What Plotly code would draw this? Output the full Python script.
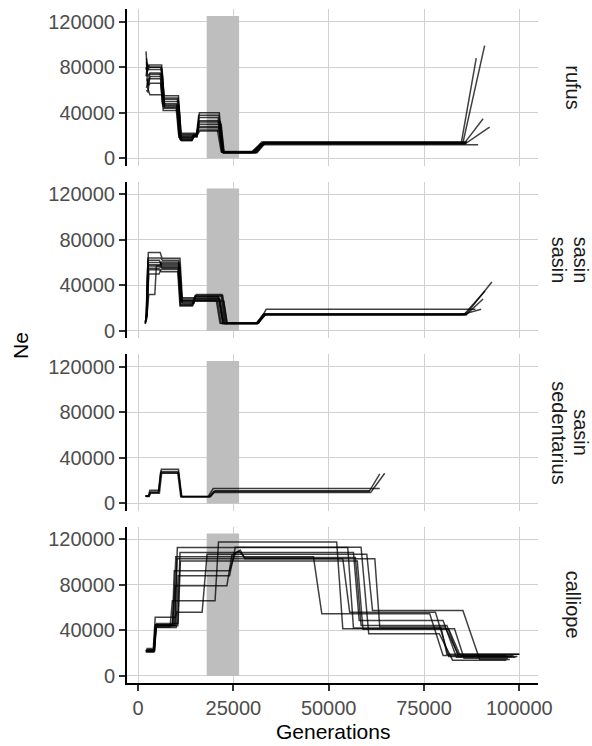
import plotly.graph_objects as go
from plotly.subplots import make_subplots

# ---- data: effective population size (Ne) trajectories, one list per replicate ----
rufus_gens = [
    [2100, 2400, 2900, 6000, 6600, 10300, 10900, 14000, 14500, 15300, 15900, 21200, 22200, 30000, 32600, 85200, 90900],
    [2200, 2500, 3000, 6200, 6800, 10600, 11200, 14200, 14700, 15500, 16100, 21000, 22000, 30400, 32800, 84800, 88700],
    [2100, 2600, 3100, 5800, 6400, 10100, 10700, 13800, 14400, 15400, 16000, 21500, 22400, 30800, 33000, 85500, 90500],
    [2300, 2700, 3200, 6400, 7000, 10800, 11400, 14100, 14600, 15200, 15800, 20800, 21800, 29800, 32200, 85800, 92200],
    [2200, 2600, 3000, 6000, 6600, 10400, 11000, 14000, 14500, 15400, 16000, 21800, 22600, 31000, 33200, 86100],
    [2100, 2400, 2800, 6300, 6900, 10600, 11300, 14300, 14800, 15500, 16100, 21300, 22300, 30200, 32400, 86300],
    [2200, 2500, 3100, 6500, 7000, 10700, 11200, 14000, 14600, 15300, 15900, 21100, 22100, 30600, 32600, 89200],
    [2300, 2700, 3200, 5900, 6500, 10200, 10800, 13900, 14400, 15300, 15900, 21600, 22500, 30000, 32500, 86000],
    [2100, 2500, 2900, 6100, 6700, 10500, 11100, 14200, 14700, 15400, 16000, 21000, 22000, 30400, 32900, 86200],
    [2200, 2600, 3100, 6200, 6800, 10000, 10700, 14100, 14600, 15600, 16200, 21400, 22400, 31200, 33400, 86000],
]
rufus_ne = [
    [94000, 76000, 80000, 80000, 52000, 52000, 18000, 18000, 20000, 20000, 38000, 38000, 5200, 5200, 13500, 13500, 99000],
    [88000, 80000, 82000, 82000, 55000, 55000, 16000, 16000, 19000, 19000, 33000, 33000, 5500, 5500, 14000, 14000, 88000],
    [80000, 72000, 75000, 75000, 48000, 48000, 21000, 21000, 21000, 21000, 28000, 28000, 5000, 5000, 13000, 13000, 34800],
    [65000, 66000, 72000, 72000, 45000, 45000, 15500, 15500, 20000, 20000, 25000, 25000, 6000, 6000, 12800, 12800, 27400],
    [60000, 58000, 70000, 70000, 42000, 42000, 17000, 17000, 19500, 19500, 30000, 30000, 5200, 5200, 13200, 13200],
    [72000, 80000, 78000, 78000, 50000, 50000, 22000, 22000, 22000, 22000, 40000, 40000, 5800, 5800, 14500, 14500],
    [85000, 62000, 56000, 56000, 47000, 47000, 19000, 19000, 20000, 20000, 27000, 27000, 5400, 5400, 12000, 12000],
    [70000, 64000, 66000, 66000, 46000, 46000, 20000, 20000, 20500, 20500, 32000, 32000, 5000, 5000, 13000, 13000],
    [78000, 83000, 80000, 80000, 53000, 53000, 16500, 16500, 19000, 19000, 36000, 36000, 5600, 5600, 14200, 14200],
    [62000, 68000, 74000, 74000, 44000, 44000, 18500, 18500, 21000, 21000, 24000, 24000, 5000, 5000, 13600, 13600],
]

sasin_gens = [
    [1900, 2200, 2600, 5600, 6100, 10800, 11500, 14600, 15100, 21000, 22200, 31200, 33200, 86000, 92800],
    [2000, 2300, 2700, 5800, 6300, 11000, 11600, 14800, 15300, 22000, 23000, 31500, 33500, 85500, 91000],
    [1900, 2100, 2500, 5500, 6000, 10500, 11200, 14200, 14800, 20500, 21500, 31000, 32800, 86200, 90500],
    [2000, 2400, 2800, 4400, 4800, 10600, 11300, 14500, 15000, 21300, 22300, 31300, 33000, 85000, 90000],
    [1900, 2300, 2700, 5700, 6200, 10900, 11500, 14400, 15000, 22500, 23400, 31600, 33600, 88500],
    [2000, 2200, 2600, 5900, 6400, 10700, 11400, 14700, 15200, 21800, 22800, 31000, 33000, 86000],
    [1900, 2300, 2800, 5600, 6100, 10400, 11000, 14300, 14900, 20800, 21800, 31400, 33300, 86300],
    [2000, 2300, 2700, 5800, 6300, 10900, 11600, 14600, 15100, 21200, 22400, 31100, 33100, 86100],
    [1900, 2200, 2600, 5700, 6200, 10600, 11300, 14400, 15000, 22200, 23300, 31200, 33400, 86000],
    [2000, 2400, 2800, 5500, 6000, 10500, 11100, 14100, 14700, 21500, 22600, 31300, 33200, 86200],
]
sasin_ne = [
    [7000, 14000, 62000, 62000, 58000, 58000, 26000, 26000, 30000, 30000, 6500, 6500, 14500, 14500, 43000],
    [9000, 15000, 68800, 68800, 63900, 63900, 29100, 29100, 32000, 32000, 6800, 6800, 14300, 14300, 35000],
    [6000, 12000, 55000, 55000, 56000, 56000, 23000, 23000, 27000, 27000, 6600, 6600, 14600, 14600, 28000],
    [10000, 16000, 32000, 32000, 57000, 57000, 25000, 25000, 28500, 28500, 6400, 6400, 14400, 14400, 19000],
    [8000, 13000, 58000, 58000, 59500, 59500, 27000, 27000, 26100, 26100, 6700, 6700, 18900, 18900],
    [12000, 16000, 64000, 64000, 62000, 62000, 28000, 28000, 30500, 30500, 6500, 6500, 14500, 14500],
    [6500, 11000, 53700, 53700, 52000, 52000, 21800, 21800, 26500, 26500, 6400, 6400, 14200, 14200],
    [8500, 14000, 60000, 60000, 55000, 55000, 24000, 24000, 29000, 29000, 6600, 6600, 14700, 14700],
    [7500, 13500, 57000, 57000, 60500, 60500, 26500, 26500, 31000, 31000, 6800, 6800, 14400, 14400],
    [9500, 15500, 50000, 50000, 54000, 54000, 22500, 22500, 27500, 27500, 6500, 6500, 14600, 14600],
]

sedentarius_gens = [
    [1900, 2800, 3200, 5400, 6000, 10500, 11400, 18600, 19800, 60600, 63400],
    [2000, 2900, 3300, 5600, 6200, 10700, 11500, 18800, 20000, 61000, 64700],
    [1900, 2700, 3100, 5500, 6100, 10600, 11300, 18400, 19700, 63400],
    [2000, 2800, 3200, 5300, 5900, 10400, 11200, 19000, 20200, 60800],
]
sedentarius_ne = [
    [6400, 6400, 10000, 10000, 28000, 28000, 6000, 6000, 10400, 10400, 26000],
    [6000, 6000, 9000, 9000, 26500, 26500, 5800, 5800, 9600, 9600, 26500],
    [6600, 6600, 11600, 11600, 30000, 30000, 6100, 6100, 13000, 13000],
    [6200, 6200, 9500, 9500, 27000, 27000, 5900, 5900, 11000, 11000],
]

calliope_gens = [
    [2000, 4200, 4700, 9200, 9900, 46000, 48200, 76500, 80000, 96600],
    [2100, 4300, 4800, 8400, 9000, 20200, 21100, 52100, 53700, 83000, 85500, 97000],
    [2000, 4100, 4600, 9000, 9800, 23300, 24600, 26500, 28000, 57000, 58500, 81000, 84000, 98000],
    [2200, 4000, 4500, 9800, 10200, 16800, 18100, 60000, 61500, 85200, 89600, 97500],
    [2100, 4300, 4700, 9700, 10300, 55000, 56500, 79500, 81000, 100000],
    [2000, 4000, 4500, 10000, 10500, 24000, 25500, 58500, 60500, 79000, 82500, 96600],
    [2200, 4200, 4700, 10400, 11000, 56500, 58000, 80000, 83500, 99000],
    [2100, 4100, 4600, 9000, 9500, 24000, 25500, 26800, 28000, 62100, 63400, 80500, 84000, 100000],
    [2000, 4300, 4800, 10500, 11100, 57500, 59000, 81500, 84500, 98500],
    [2100, 4200, 4600, 9600, 10200, 53700, 55500, 78000, 81500, 99500],
]
calliope_ne = [
    [22000, 22000, 44000, 44000, 104600, 104600, 54500, 54500, 18000, 18000],
    [21500, 21500, 43000, 43000, 66100, 66100, 117600, 117600, 41400, 41400, 15500, 15500],
    [22000, 22000, 45000, 45000, 79200, 79200, 106000, 109500, 104000, 104000, 44300, 44300, 17000, 17000],
    [24000, 24000, 51500, 51500, 55900, 55900, 106900, 106900, 57400, 57400, 14500, 14500],
    [22500, 22500, 44500, 44500, 112700, 112700, 42000, 42000, 19000, 19000],
    [21000, 21000, 42500, 42500, 88000, 88000, 113000, 113000, 37000, 37000, 13800, 13800],
    [23000, 23000, 44000, 44000, 108300, 108300, 48600, 48600, 16300, 16300],
    [22000, 22000, 45000, 45000, 92300, 92300, 108000, 110500, 103000, 103000, 43000, 43000, 18900, 18900],
    [22500, 22500, 46000, 46000, 101000, 101000, 41000, 41000, 17800, 17800],
    [21500, 21500, 44000, 44000, 103000, 103000, 56000, 56000, 17000, 17000],
]

strip_labels = [["rufus"], ["sasin", "sasin"], ["sasin", "sedentarius"], ["calliope"]]
panels = [
    (rufus_gens, rufus_ne),
    (sasin_gens, sasin_ne),
    (sedentarius_gens, sedentarius_ne),
    (calliope_gens, calliope_ne),
]

# shaded interval (generations) and its height
lgm_gens = [18000, 26500]
lgm_ne = [0, 125000]

x_ticks = [0, 25000, 50000, 75000, 100000]
y_ticks = [0, 40000, 80000, 120000]

# ---- layout geometry ----
W, H = 592, 746
ML, MR, MT, MB = 127, 54, 9, 63
plot_w = W - ML - MR
plot_h = H - MT - MB
gap = 16

FONT = "Liberation Sans, Arial, sans-serif"
TICK_GREY = "#4D4D4D"
GRID = "#D0D0D0"

fig = make_subplots(rows=4, cols=1, shared_xaxes=True,
                    vertical_spacing=gap / plot_h)

for r, (gens_list, ne_list) in enumerate(panels, start=1):
    for g, n in zip(gens_list, ne_list):
        fig.add_trace(go.Scatter(
            x=g, y=n, mode="lines",
            line=dict(color="rgba(0,0,0,0.75)", width=1.5),
            showlegend=False, hoverinfo="skip"), row=r, col=1)
    yref = "y" if r == 1 else f"y{r}"
    xref = "x" if r == 1 else f"x{r}"
    fig.add_shape(type="rect", xref=xref, yref=yref,
                  x0=lgm_gens[0], x1=lgm_gens[1], y0=lgm_ne[0], y1=lgm_ne[1],
                  fillcolor="#BEBEBE", line=dict(width=0), layer="between")

x_range = [-2900, 104900]
y_range = [-6250, 131250]

for r in range(1, 5):
    bottom = r == 4
    fig.update_xaxes(
        row=r, col=1, range=x_range, tickvals=x_ticks,
        ticktext=[str(v) for v in x_ticks],
        showgrid=True, gridcolor=GRID, gridwidth=1, zeroline=False,
        showline=bottom, linecolor="black", linewidth=2,
        ticks="outside" if bottom else "", ticklen=6, tickwidth=2,
        tickcolor="#333333", showticklabels=bottom,
        tickfont=dict(family=FONT, size=20, color=TICK_GREY),
    )
    fig.update_yaxes(
        row=r, col=1, range=y_range, tickvals=y_ticks,
        ticktext=[str(v) for v in y_ticks],
        showgrid=True, gridcolor=GRID, gridwidth=1, zeroline=False,
        showline=True, linecolor="black", linewidth=2,
        ticks="outside", ticklen=6, tickwidth=2, tickcolor="#333333",
        tickfont=dict(family=FONT, size=20, color=TICK_GREY),
    )

annotations = []
for r, lines in enumerate(strip_labels, start=1):
    ax = fig.layout["yaxis" if r == 1 else f"yaxis{r}"]
    yc = (ax.domain[0] + ax.domain[1]) / 2
    if len(lines) == 1:
        xs_px = [573]
    else:
        xs_px = [581, 559]
    for txt, xp in zip(lines, xs_px):
        annotations.append(dict(
            text=txt, xref="paper", yref="paper",
            x=(xp - ML) / plot_w, y=yc, xanchor="center", yanchor="middle",
            textangle=90, showarrow=False,
            font=dict(family=FONT, size=20, color="#1A1A1A")))

annotations.append(dict(
    text="Ne", xref="paper", yref="paper",
    x=(20 - ML) / plot_w, y=0.5, xanchor="center", yanchor="middle",
    textangle=-90, showarrow=False,
    font=dict(family=FONT, size=21, color="black")))
annotations.append(dict(
    text="Generations", xref="paper", yref="paper",
    x=0.5, y=-(731 - (H - MB)) / plot_h, xanchor="center", yanchor="middle",
    showarrow=False, font=dict(family=FONT, size=21, color="black")))

fig.update_layout(
    width=W, height=H,
    margin=dict(l=ML, r=MR, t=MT, b=MB, pad=0),
    plot_bgcolor="white", paper_bgcolor="white",
    annotations=annotations,
    font=dict(family=FONT),
)

fig.write_html("out.html")
